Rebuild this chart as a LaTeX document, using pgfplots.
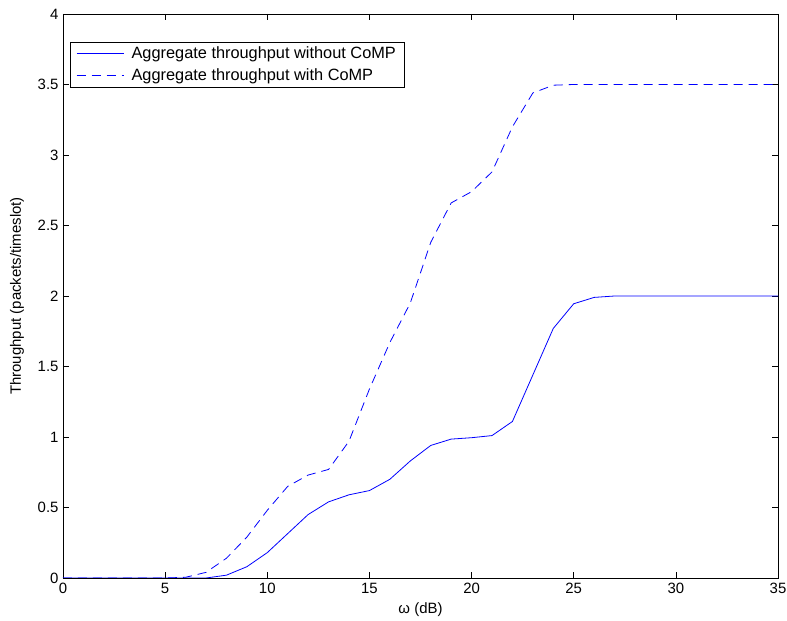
\documentclass[border=0pt]{standalone}
\usepackage{pgfplots}
\pgfplotsset{compat=1.18}
\usepackage{fontspec}
\setmainfont{Liberation Sans}
\begin{document}
\begin{tikzpicture}
\begin{axis}[
  scale only axis,
  width=715bp, height=564bp,
  at={(0,0)}, anchor=south west,
  xmin=0, xmax=35, ymin=0, ymax=4,
  xtick={0,5,...,35},
  ytick={0,0.5,...,4},
  yticklabels={0,0.5,1,1.5,2,2.5,3,3.5,4},
  tick align=inside,
  major tick length=6bp,
  tick style={black, line width=0.6bp},
  axis line style={black, line width=0.8bp},
  /pgf/number format/assume math mode=true,
  tick label style={font=\fontsize{15}{17}\selectfont},
  label style={font=\fontsize{15}{17}\selectfont},
  xlabel={ω (dB)},
  ylabel={Throughput (packets/timeslot)},
  xlabel style={at={(axis description cs:0.5,0)}, anchor=north, yshift=-21bp},
  ylabel style={at={(axis description cs:-0.0643,0.5)}, anchor=center},
  xticklabel style={yshift=-2bp},
  yticklabel style={xshift=-1bp},
  legend style={at={(0.0098,0.951)}, anchor=north west,
    draw=black, fill=white,
    font=\fontsize{16.4}{19}\selectfont,
    inner xsep=6bp, inner ysep=3bp, row sep=5bp},
  legend cell align=left,
]
\addplot[blue, line width=0.8bp, forget plot] coordinates {
(0,0)(1,0)(2,0)(3,0)(4,0)(5,0)(6,0)(7,0)(8,0.02)(9,0.08)(10,0.18)(11,0.315)(12,0.45)(13,0.54)(14,0.59)(15,0.62)(16,0.70)(17,0.83)(18,0.94)(19,0.985)(20,0.995)(21,1.01)(22,1.11)(23,1.44)(24,1.77)(25,1.945)(26,1.99)(27,2.0)(28,2.0)(29,2.0)(30,2.0)(31,2.0)(32,2.0)(33,2.0)(34,2.0)(35,2.0)
};
\addplot[blue, line width=0.8bp, dash pattern=on 9bp off 6bp, forget plot] coordinates {
(0,0)(1,0)(2,0)(3,0)(4,0)(5,0)(6,0.005)(7,0.04)(8,0.14)(9,0.29)(10,0.48)(11,0.65)(12,0.73)(13,0.77)(14,0.97)(15,1.34)(16,1.67)(17,1.95)(18,2.38)(19,2.66)(20,2.74)(21,2.88)(22,3.2)(23,3.44)(24,3.495)(25,3.5)(26,3.5)(27,3.5)(28,3.5)(29,3.5)(30,3.5)(31,3.5)(32,3.5)(33,3.5)(34,3.5)(35,3.5)
};
\addlegendimage{legend image code/.code={%
  \pgfsetstrokecolor{blue}\pgfsetlinewidth{0.8bp}%
  \pgfpathmoveto{\pgfpoint{0bp}{0bp}}\pgfpathlineto{\pgfpoint{47bp}{0bp}}\pgfusepath{stroke}%
  \pgfpathrectangle{\pgfpoint{0bp}{-1bp}}{\pgfpoint{53bp}{2bp}}\pgfusepath{}}}
\addlegendentry{Aggregate throughput without CoMP}
\addlegendimage{legend image code/.code={%
  \pgfsetstrokecolor{blue}\pgfsetlinewidth{0.8bp}%
  \pgfsetdash{{9bp}{6bp}}{0bp}%
  \pgfpathmoveto{\pgfpoint{0bp}{0bp}}\pgfpathlineto{\pgfpoint{47bp}{0bp}}\pgfusepath{stroke}%
  \pgfpathrectangle{\pgfpoint{0bp}{-1bp}}{\pgfpoint{53bp}{2bp}}\pgfusepath{}}}
\addlegendentry{Aggregate throughput with CoMP}
\end{axis}
\pgfresetboundingbox
\path[use as bounding box] (-63bp,-43bp) rectangle (724bp,578bp);
\end{tikzpicture}
\end{document}
